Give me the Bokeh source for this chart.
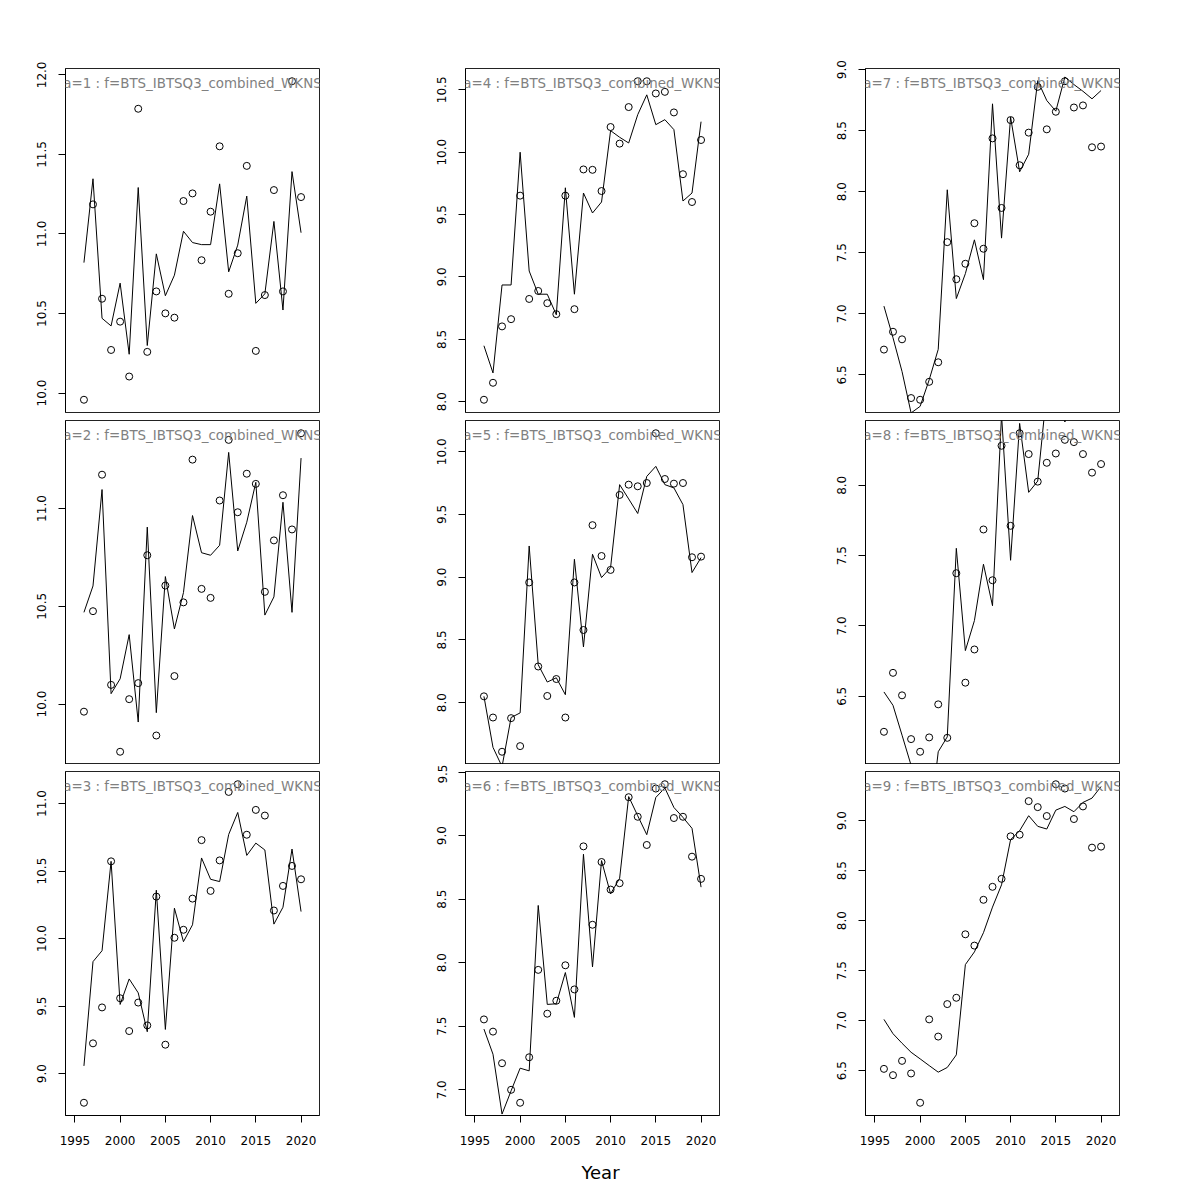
from bokeh.plotting import figure
from bokeh.layouts import column, row
from bokeh.models import Range1d, FixedTicker, SingleIntervalTicker, PrintfTickFormatter, Label
from bokeh.embed import file_html
from bokeh.resources import INLINE

years = list(range(1996, 2021))
x_ticks = [1995, 2000, 2005, 2010, 2015, 2020]
x_lim = [1993.96, 2022.04]
x_title = "Year"
panel_label = "a={} : f=BTS_IBTSQ3_combined_WKNS"

obs_a1 = [9.958, 11.186, 10.593, 10.271, 10.449, 10.104, 11.787, 10.259, 10.639, 10.501,
          10.474, 11.207, 11.255, 10.835, 11.140, 11.551, 10.624, 10.879, 11.428, 10.265,
          10.616, 11.276, 10.639, 11.960, 11.232]
fit_a1 = [10.820, 11.347, 10.470, 10.422, 10.691, 10.244, 11.292, 10.299, 10.875, 10.612,
          10.741, 11.017, 10.946, 10.933, 10.933, 11.315, 10.762, 10.930, 11.238, 10.564,
          10.624, 11.079, 10.522, 11.392, 11.008]

obs_a2 = [9.961, 10.475, 11.173, 10.098, 9.756, 10.025, 10.107, 10.761, 9.839, 10.606,
          10.143, 10.520, 11.250, 10.589, 10.543, 11.041, 11.351, 10.981, 11.178, 11.126,
          10.574, 10.837, 11.068, 10.893, 11.385]
fit_a2 = [10.469, 10.604, 11.097, 10.053, 10.129, 10.355, 9.908, 10.905, 9.956, 10.652,
          10.384, 10.570, 10.964, 10.774, 10.761, 10.812, 11.287, 10.783, 10.930, 11.134,
          10.455, 10.548, 11.032, 10.469, 11.258]

obs_a3 = [8.784, 9.224, 9.490, 10.572, 9.558, 9.315, 9.526, 9.357, 10.311, 9.214,
          10.006, 10.065, 10.296, 10.729, 10.353, 10.579, 11.086, 11.143, 10.769, 10.953,
          10.911, 10.208, 10.390, 10.538, 10.439]
fit_a3 = [9.057, 9.829, 9.910, 10.572, 9.512, 9.701, 9.598, 9.310, 10.358, 9.327,
          10.225, 9.977, 10.102, 10.597, 10.439, 10.422, 10.771, 10.934, 10.616, 10.707,
          10.656, 10.107, 10.232, 10.663, 10.200]

obs_a4 = [8.016, 8.152, 8.604, 8.662, 9.652, 8.824, 8.888, 8.790, 8.702, 9.652,
          8.742, 9.862, 9.859, 9.689, 10.202, 10.069, 10.362, 10.569, 10.569, 10.471,
          10.484, 10.319, 9.824, 9.601, 10.098]
fit_a4 = [8.449, 8.231, 8.936, 8.936, 10.000, 9.048, 8.862, 8.862, 8.697, 9.715,
          8.862, 9.673, 9.513, 9.601, 10.173, 10.120, 10.074, 10.301, 10.460, 10.221,
          10.261, 10.181, 9.609, 9.673, 10.245]

obs_a5 = [8.050, 7.881, 7.608, 7.876, 7.653, 8.958, 8.288, 8.053, 8.188, 7.881,
          8.958, 8.579, 9.415, 9.169, 9.058, 9.656, 9.738, 9.725, 9.751, 10.148,
          9.783, 9.746, 9.751, 9.159, 9.164]
fit_a5 = [8.050, 7.643, 7.490, 7.881, 7.918, 9.249, 8.302, 8.164, 8.198, 8.063,
          9.143, 8.444, 9.183, 8.997, 9.077, 9.738, 9.624, 9.508, 9.804, 9.884,
          9.738, 9.712, 9.579, 9.037, 9.156]

obs_a6 = [7.554, 7.458, 7.209, 7.000, 6.898, 7.256, 7.944, 7.599, 7.701, 7.980,
          7.790, 8.916, 8.299, 8.793, 8.576, 8.626, 9.303, 9.149, 8.927, 9.371,
          9.405, 9.139, 9.149, 8.835, 8.660]
fit_a6 = [7.478, 7.280, 6.809, 6.992, 7.170, 7.149, 8.451, 7.672, 7.677, 7.923,
          7.570, 8.854, 7.967, 8.804, 8.542, 8.665, 9.308, 9.157, 9.008, 9.301,
          9.376, 9.222, 9.144, 9.058, 8.595]

obs_a7 = [6.707, 6.853, 6.791, 6.310, 6.296, 6.443, 6.603, 7.587, 7.283, 7.410,
          7.742, 7.533, 8.437, 7.867, 8.587, 8.217, 8.484, 8.859, 8.511, 8.655,
          8.905, 8.690, 8.707, 8.364, 8.370]
fit_a7 = [7.063, 6.804, 6.527, 6.188, 6.242, 6.459, 6.709, 8.016, 7.125, 7.329,
          7.606, 7.280, 8.720, 7.620, 8.611, 8.163, 8.307, 8.910, 8.747, 8.660,
          8.940, 8.878, 8.823, 8.761, 8.829]

obs_a8 = [6.248, 6.667, 6.507, 6.196, 6.106, 6.208, 6.443, 6.205, 7.375, 6.597,
          6.833, 7.686, 7.325, 8.281, 7.712, 8.370, 8.222, 8.026, 8.160, 8.226,
          8.323, 8.307, 8.222, 8.090, 8.151]
fit_a8 = [6.531, 6.436, 6.224, 6.010, 5.750, 5.550, 6.106, 6.212, 7.552, 6.825,
          7.038, 7.439, 7.144, 8.500, 7.467, 8.440, 7.950, 8.030, 8.670, 8.650,
          8.450, 8.600, 8.580, 8.560, 8.600]

obs_a9 = [6.518, 6.455, 6.598, 6.472, 6.179, 7.013, 6.841, 7.166, 7.229, 7.864,
          7.751, 8.209, 8.339, 8.419, 8.844, 8.860, 9.196, 9.136, 9.047, 9.365,
          9.322, 9.017, 9.143, 8.731, 8.741]
fit_a9 = [7.013, 6.870, 6.774, 6.684, 6.618, 6.551, 6.485, 6.532, 6.658, 7.561,
          7.688, 7.880, 8.136, 8.359, 8.811, 8.900, 9.050, 8.944, 8.917, 9.106,
          9.143, 9.090, 9.183, 9.226, 9.342]

panels = [
    [(1, obs_a1, fit_a1), (4, obs_a4, fit_a4), (7, obs_a7, fit_a7)],
    [(2, obs_a2, fit_a2), (5, obs_a5, fit_a5), (8, obs_a8, fit_a8)],
    [(3, obs_a3, fit_a3), (6, obs_a6, fit_a6), (9, obs_a9, fit_a9)],
]

FONT = "DejaVu Sans"
FW, FH = 254, 344
TOP = [68, 4, 7]
BOT = [4, 0, 45]
LEFT = 65
RIGHT = [81, 81, 20]


def make_panel(a, obs, fit, ci, ri):
    L = LEFT
    R = RIGHT[ci]
    T, B = TOP[ri], BOT[ri]
    lo, hi = min(obs), max(obs)
    ext = 0.04 * (hi - lo)
    p = figure(width=L + FW + R, height=T + FH + B,
               min_border_left=L, min_border_right=R,
               min_border_top=T, min_border_bottom=B,
               x_range=Range1d(x_lim[0], x_lim[1]),
               y_range=Range1d(lo - ext, hi + ext),
               x_axis_location=("below" if ri == 2 else None),
               output_backend="svg", toolbar_location=None)
    p.grid.visible = False
    p.outline_line_color = "#222222"
    p.outline_line_width = 1
    p.background_fill_color = "white"
    p.border_fill_color = "white"

    ya = p.yaxis[0]
    ya.ticker = SingleIntervalTicker(interval=0.5, num_minor_ticks=0)
    ya.formatter = PrintfTickFormatter(format="%.1f")
    ya.major_label_orientation = "vertical"
    ya.major_tick_out = 7
    ya.major_tick_in = 0
    ya.minor_tick_out = 0
    ya.minor_tick_in = 0
    ya.major_label_standoff = 12
    ya.major_label_text_font = FONT
    ya.major_label_text_font_size = "12px"
    ya.major_label_text_color = "black"
    ya.axis_line_color = "black"

    if ri == 2:
        xa = p.xaxis[0]
        xa.ticker = FixedTicker(ticks=x_ticks)
        xa.major_tick_out = 7
        xa.major_tick_in = 0
        xa.minor_tick_out = 0
        xa.major_label_standoff = 13
        xa.major_label_text_font = FONT
        xa.major_label_text_font_size = "12px"
        xa.major_label_text_color = "black"
        xa.axis_line_color = "black"

    p.line(years, fit, line_color="black", line_width=1)
    p.scatter(years, obs, marker="circle", size=7, fill_color=None,
              line_color="black", line_width=1)

    p.add_layout(Label(x=(x_lim[0] + x_lim[1]) / 2, y=hi + ext, y_offset=-15,
                       text=panel_label.format(a), text_align="center",
                       text_baseline="middle", text_font=FONT,
                       text_font_size="13.4px", text_color="#808080"))
    return p


rows = []
for ri, prow in enumerate(panels):
    figs = [make_panel(a, o, f, ci, ri) for ci, (a, o, f) in enumerate(prow)]
    rows.append(row(*figs, spacing=0))

total_w = sum(LEFT + FW + r for r in RIGHT)
strip = figure(width=total_w, height=30, x_range=Range1d(0, total_w),
               y_range=Range1d(0, 30), min_border_left=0, min_border_right=0,
               min_border_top=0, min_border_bottom=0,
               x_axis_location=None, y_axis_location=None,
               output_backend="svg", toolbar_location=None)
strip.grid.visible = False
strip.outline_line_color = None
strip.add_layout(Label(x=600, y=18, text=x_title, text_align="center",
                       text_baseline="middle", text_font=FONT,
                       text_font_size="18px", text_color="black"))
rows.append(strip)

layout = column(*rows, spacing=0)

open("out.html", "w").write(file_html(layout, INLINE))
